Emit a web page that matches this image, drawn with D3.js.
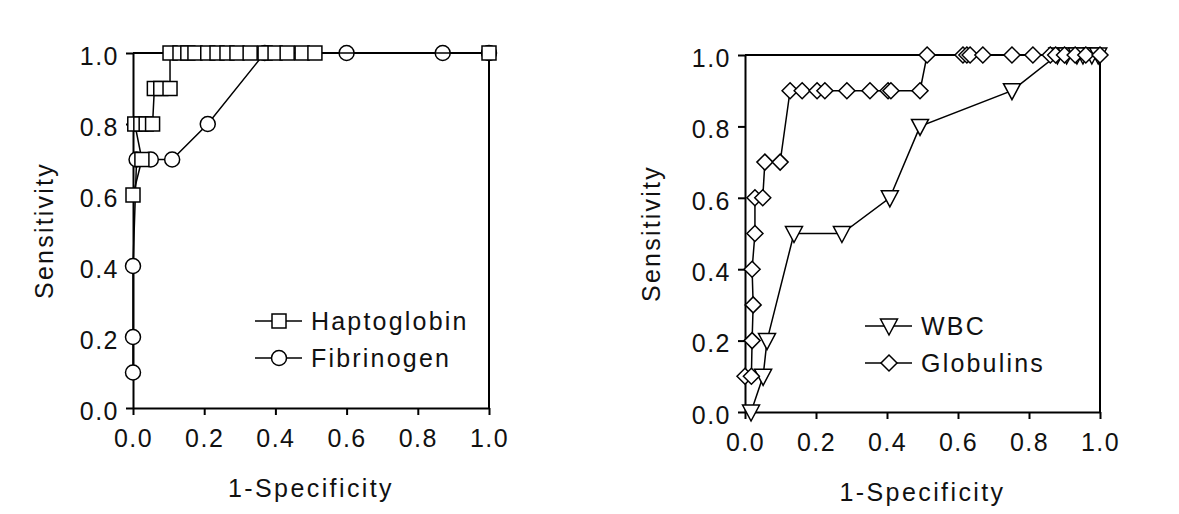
<!DOCTYPE html>
<html>
<head>
<meta charset="utf-8">
<script src="https://cdn.jsdelivr.net/npm/d3@7"></script>
<style>
  body { margin: 0; background: #ffffff; }
  svg text { font-family: "Liberation Sans", Arial, sans-serif; fill: #111; }
</style>
</head>
<body>
<svg id="chart" width="1179" height="514"></svg>
<script>
// tick values
var xTicks = [0, 0.2, 0.4, 0.6, 0.8, 1.0];
var yTicks = [0, 0.2, 0.4, 0.6, 0.8, 1.0];

// left panel
var haptoX = [0, 0.025, 0.005, 0.022, 0.037, 0.055, 0.06, 0.078, 0.104, 0.104, 0.132, 0.154, 0.174, 0.21, 0.236, 0.264, 0.292, 0.329, 0.371, 0.399, 0.433, 0.475, 0.511, 1.0];
var haptoY = [0.6, 0.7, 0.8, 0.8, 0.8, 0.8, 0.9, 0.9, 0.9, 1.0, 1.0, 1.0, 1.0, 1.0, 1.0, 1.0, 1.0, 1.0, 1.0, 1.0, 1.0, 1.0, 1.0, 1.0];
var fibX = [0, 0, 0, 0.01, 0.05, 0.11, 0.21, 0.37, 0.6, 0.87, 1.0];
var fibY = [0.1, 0.2, 0.4, 0.7, 0.7, 0.7, 0.8, 1.0, 1.0, 1.0, 1.0];

// right panel
var wbcX = [0.017, 0.051, 0.062, 0.138, 0.273, 0.408, 0.493, 0.752, 0.88, 0.906, 0.935, 0.952, 0.977, 0.995];
var wbcY = [0.0, 0.1, 0.2, 0.5, 0.5, 0.6, 0.8, 0.9, 1.0, 1.0, 1.0, 1.0, 1.0, 1.0];
var globX = [0, 0.018, 0.02, 0.023, 0.02, 0.028, 0.028, 0.05, 0.056, 0.099, 0.127, 0.161, 0.203, 0.225, 0.287, 0.352, 0.403, 0.411, 0.493, 0.513, 0.614, 0.625, 0.634, 0.67, 0.752, 0.811, 0.86, 0.875, 0.9, 0.93, 0.96, 1.0];
var globY = [0.1, 0.1, 0.2, 0.3, 0.4, 0.5, 0.6, 0.6, 0.7, 0.7, 0.9, 0.9, 0.9, 0.9, 0.9, 0.9, 0.9, 0.9, 0.9, 1.0, 1.0, 1.0, 1.0, 1.0, 1.0, 1.0, 1.0, 1.0, 1.0, 1.0, 1.0, 1.0];

var svg = d3.select("#chart");

function zip(xs, ys){
    return xs.map(function(v, i){ return [v, ys[i]]; });
}

// marker shapes, drawn around 0,0
function marker(g, kind){
    if(kind == "square"){
        g.append("rect").attr("x", -7).attr("y", -7).attr("width", 14).attr("height", 14);
    }else if(kind == "circle"){
        g.append("circle").attr("r", 7.5);
    }else if(kind == "diamond"){
        g.append("path").attr("d", "M0,-8L8,0L0,8L-8,0Z");
    }else if(kind == "triangle"){
        g.append("path").attr("d", "M-8.5,-7L8.5,-7L0,9Z");
    }
    g.selectAll("rect,circle,path")
        .attr("fill", "#fff")
        .attr("stroke", "#000")
        .attr("stroke-width", 1.5);
}

function drawPanel(p){
    var x = d3.scaleLinear().domain([0, 1]).range([p.left, p.right]);
    var y = d3.scaleLinear().domain([0, 1]).range([p.bottom, p.top]);
    var g = svg.append("g");

    // top and right frame
    g.append("path")
        .attr("d", "M" + x(0) + "," + y(1) + "H" + x(1) + "V" + y(0))
        .attr("fill", "none").attr("stroke", "#000").attr("stroke-width", 2);

    var xa = g.append("g").attr("transform", "translate(0," + y(0) + ")")
        .call(d3.axisBottom(x).tickValues(xTicks).tickFormat(d3.format(".1f"))
            .tickSize(7).tickSizeOuter(0).tickPadding(14));
    var ya = g.append("g").attr("transform", "translate(" + x(0) + ",0)")
        .call(d3.axisLeft(y).tickValues(yTicks).tickFormat(d3.format(".1f"))
            .tickSize(7).tickSizeOuter(0).tickPadding(7));
    [xa, ya].forEach(function(a){
        a.select(".domain").attr("stroke", "#000").attr("stroke-width", 2);
        a.selectAll(".tick line").attr("stroke", "#000").attr("stroke-width", 2);
        a.selectAll(".tick text")
            .style("font-size", "25px")
            .style("letter-spacing", "1.5px")
            .attr("fill", "#111");
    });
    ya.selectAll(".tick text").attr("dy", "0.45em");

    // axis titles
    g.append("text")
        .text("1-Specificity")
        .attr("x", (p.left + p.right) / 2)
        .attr("y", p.bottom + 89)
        .attr("text-anchor", "middle")
        .style("font-size", "25px")
        .style("letter-spacing", "2.4px");
    g.append("text")
        .text("Sensitivity")
        .attr("transform", "translate(" + p.ylabelX + "," + ((p.top + p.bottom) / 2) + ") rotate(-90)")
        .attr("text-anchor", "middle")
        .style("font-size", "25px")
        .style("letter-spacing", "2.2px");

    var line = d3.line().x(function(d){ return x(d[0]); }).y(function(d){ return y(d[1]); });

    p.series.forEach(function(s){
        var pts = zip(s.xs, s.ys);
        g.append("path")
            .attr("d", line(pts))
            .attr("fill", "none")
            .attr("stroke", "#000")
            .attr("stroke-width", 1.5);
        pts.forEach(function(d){
            var m = g.append("g").attr("transform", "translate(" + x(d[0]) + "," + y(d[1]) + ")");
            marker(m, s.shape);
        });
    });

    // legend
    p.legend.forEach(function(s, i){
        var ly = p.legendY + i * 37;
        g.append("line")
            .attr("x1", p.legendX).attr("x2", p.legendX + 47)
            .attr("y1", ly).attr("y2", ly)
            .attr("stroke", "#000").attr("stroke-width", 1.5);
        var m = g.append("g").attr("transform", "translate(" + (p.legendX + 24) + "," + ly + ")");
        marker(m, s.shape);
        g.append("text")
            .text(s.name)
            .attr("x", p.legendX + 56)
            .attr("y", ly + 9)
            .style("font-size", "25px")
            .style("letter-spacing", "2.2px");
    });
}

drawPanel({
    left: 133, right: 489, top: 53, bottom: 408, ylabelX: 53,
    series: [
        {name: "Fibrinogen", shape: "circle", xs: fibX, ys: fibY},
        {name: "Haptoglobin", shape: "square", xs: haptoX, ys: haptoY}
    ],
    legend: [
        {name: "Haptoglobin", shape: "square"},
        {name: "Fibrinogen", shape: "circle"}
    ],
    legendX: 255, legendY: 321
});

drawPanel({
    left: 745, right: 1100, top: 55, bottom: 412, ylabelX: 660,
    series: [
        {name: "WBC", shape: "triangle", xs: wbcX, ys: wbcY},
        {name: "Globulins", shape: "diamond", xs: globX, ys: globY}
    ],
    legend: [
        {name: "WBC", shape: "triangle"},
        {name: "Globulins", shape: "diamond"}
    ],
    legendX: 865, legendY: 326
});
</script>
</body>
</html>
